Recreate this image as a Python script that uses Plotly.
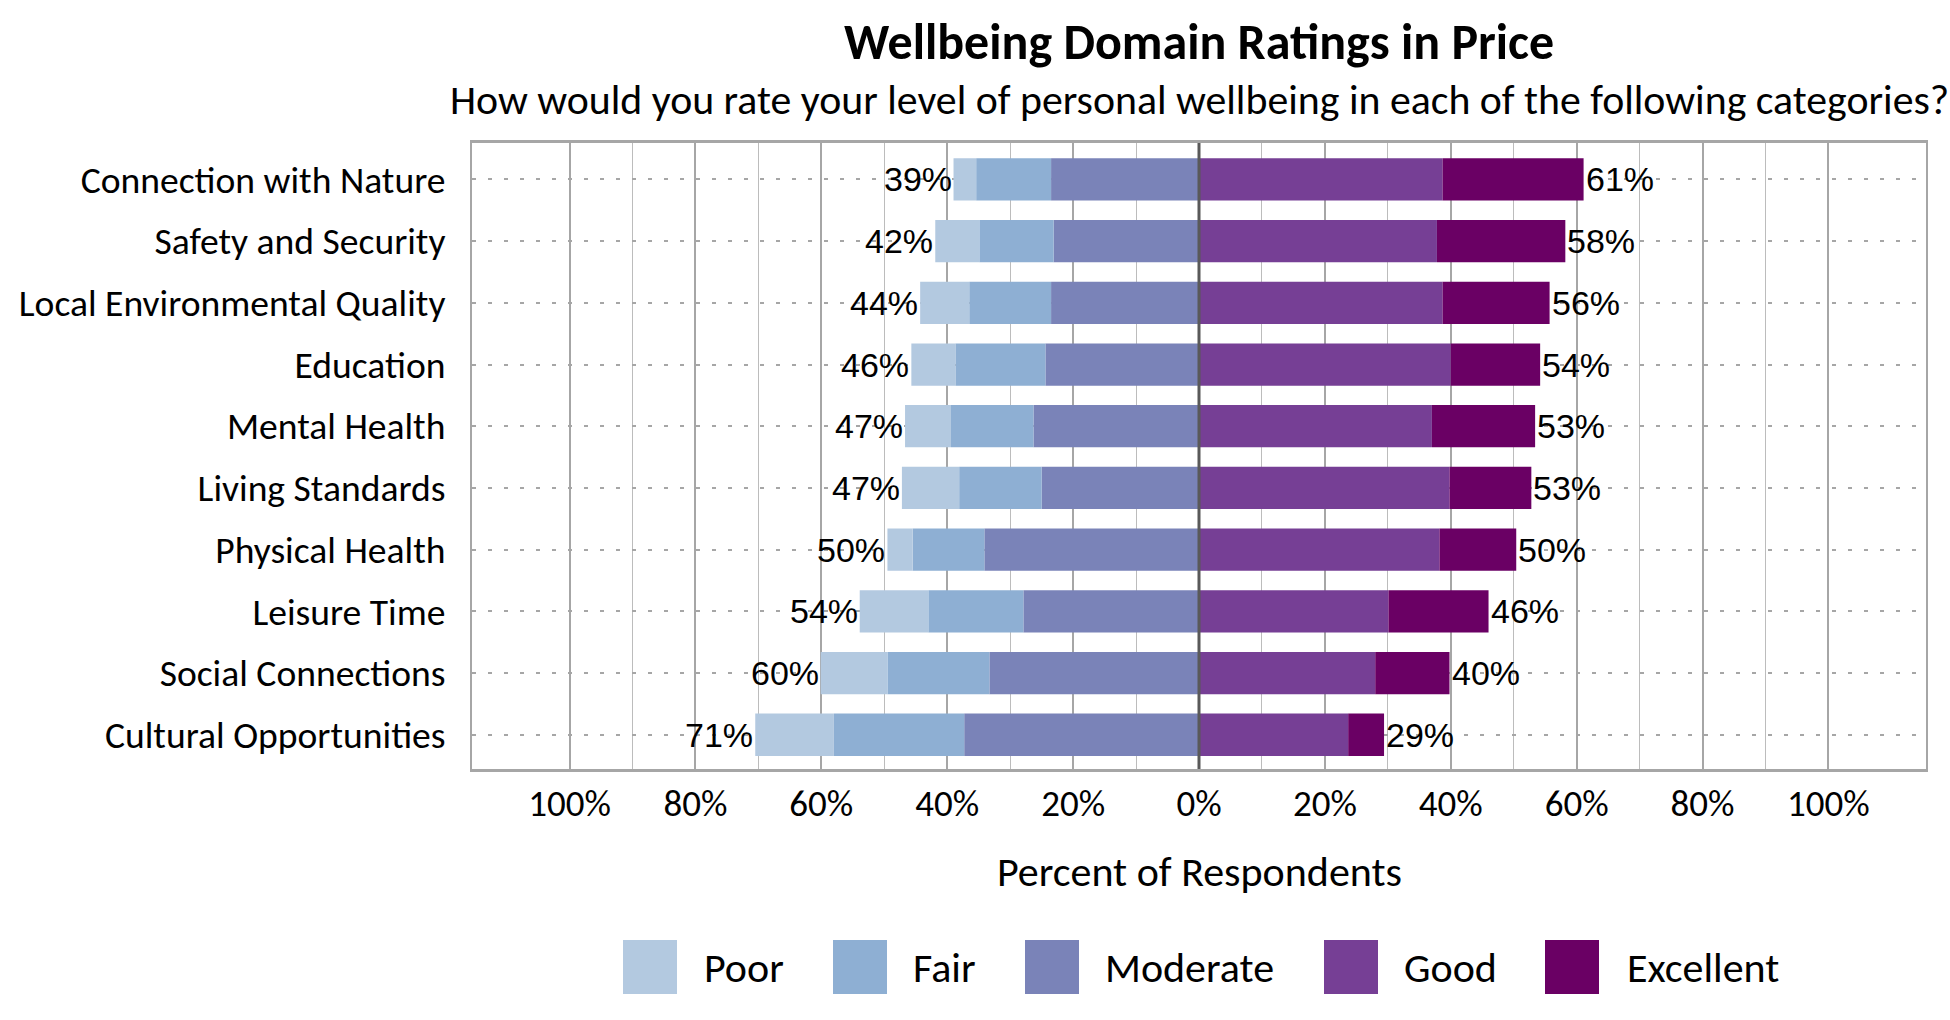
import plotly.graph_objects as go

# ---------------- data ----------------
categories = ["Connection with Nature", "Safety and Security", "Local Environmental Quality",
              "Education", "Mental Health", "Living Standards", "Physical Health",
              "Leisure Time", "Social Connections", "Cultural Opportunities"]
poor = [3.6, 7.0, 7.8, 7.0, 7.3, 9.1, 4.0, 10.9, 10.6, 12.5]
fair = [11.9, 11.8, 13.0, 14.3, 13.1, 13.1, 11.4, 15.1, 16.2, 20.7]
moderate = [23.5, 23.1, 23.5, 24.4, 26.3, 25.0, 34.1, 27.9, 33.3, 37.3]
good = [38.7, 37.8, 38.7, 40.0, 37.0, 39.8, 38.2, 30.1, 28.0, 23.7]
excellent = [22.4, 20.4, 17.0, 14.2, 16.4, 13.0, 12.2, 15.9, 11.8, 5.7]
neg_labels = ["39%", "42%", "44%", "46%", "47%", "47%", "50%", "54%", "60%", "71%"]
pos_labels = ["61%", "58%", "56%", "54%", "53%", "53%", "50%", "46%", "40%", "29%"]
tick_values = [-100, -80, -60, -40, -20, 0, 20, 40, 60, 80, 100]
tick_labels = ["100%", "80%", "60%", "40%", "20%", "0%", "20%", "40%", "60%", "80%", "100%"]
minor_values = [-90, -70, -50, -30, -10, 10, 30, 50, 70, 90]
series_names = ["Poor", "Fair", "Moderate", "Good", "Excellent"]
colors = ["#b3c9e0", "#8eafd3", "#7a83b8", "#763f95", "#6a0064"]

# ---------------- layout constants ----------------
W, H = 1950, 1020
L, R, T, B = 472, 24, 143, 251
PW, PH = W - L - R, H - T - B
FONT = "Carlito, Calibri, Lato, sans-serif"
NUMFONT = "Liberation Sans, Arial, sans-serif"


def px_x(x):
    return (x - L) / PW


def px_y(y):
    return (H - B - y) / PH


fig = go.Figure()
neg_series = [("Moderate", moderate, colors[2]), ("Fair", fair, colors[1]), ("Poor", poor, colors[0])]
for name, vals, col in neg_series:
    fig.add_trace(go.Bar(y=categories, x=[-v for v in vals], orientation="h", name=name,
                         marker=dict(color=col, line=dict(width=0)), showlegend=False,
                         hoverinfo="skip"))
for name, vals, col in [("Good", good, colors[3]), ("Excellent", excellent, colors[4])]:
    fig.add_trace(go.Bar(y=categories, x=vals, orientation="h", name=name,
                         marker=dict(color=col, line=dict(width=0)), showlegend=False,
                         hoverinfo="skip"))

annotations = []
for i, c in enumerate(categories):
    neg_total = poor[i] + fair[i] + moderate[i]
    pos_total = good[i] + excellent[i]
    annotations.append(dict(x=-neg_total, y=c, xref="x", yref="y", text=neg_labels[i],
                            showarrow=False, xanchor="right", yanchor="middle", xshift=0,
                            font=dict(family=NUMFONT, size=34, color="black")))
    annotations.append(dict(x=pos_total, y=c, xref="x", yref="y", text=pos_labels[i],
                            showarrow=False, xanchor="left", yanchor="middle", xshift=0,
                            font=dict(family=NUMFONT, size=34, color="black")))

annotations.append(dict(x=px_x(1199), y=px_y(41), xref="paper", yref="paper",
                        text="<b>Wellbeing Domain Ratings in Price</b>", showarrow=False,
                        xanchor="center", yanchor="middle",
                        font=dict(family=FONT, size=50, color="black")))
annotations.append(dict(x=px_x(1199), y=px_y(100), xref="paper", yref="paper",
                        text="How would you rate your level of personal wellbeing in each of the following categories?",
                        showarrow=False, xanchor="center", yanchor="middle",
                        font=dict(family=FONT, size=41.8, color="black")))
annotations.append(dict(x=px_x(1199), y=px_y(871), xref="paper", yref="paper",
                        text="Percent of Respondents", showarrow=False,
                        xanchor="center", yanchor="middle",
                        font=dict(family=FONT, size=42, color="black")))

shapes = []
swatch_x = [623, 833, 1025, 1324, 1545]
text_x = [702, 911, 1103, 1402, 1625]
for i, name in enumerate(series_names):
    shapes.append(dict(type="rect", xref="paper", yref="paper",
                       x0=px_x(swatch_x[i]), x1=px_x(swatch_x[i] + 54),
                       y0=px_y(994), y1=px_y(940), fillcolor=colors[i], line=dict(width=0)))
    annotations.append(dict(x=px_x(text_x[i]), y=px_y(967), xref="paper", yref="paper",
                            text=name, showarrow=False, xanchor="left", yanchor="middle",
                            font=dict(family=FONT, size=42, color="black")))

shapes.append(dict(type="line", xref="x", yref="paper", x0=0, x1=0, y0=0, y1=1,
                   line=dict(color="#595959", width=3), layer="above"))

fig.update_layout(
    width=W, height=H,
    margin=dict(l=L, r=R, t=T, b=B, pad=0),
    paper_bgcolor="white", plot_bgcolor="white",
    barmode="relative", bargap=0.315,
    showlegend=False,
    annotations=annotations, shapes=shapes,
    xaxis=dict(range=[-115.5, 115.5], tickvals=tick_values, ticktext=tick_labels,
               showgrid=True, gridcolor="#a6a6a6", gridwidth=2,
               minor=dict(tickvals=minor_values, showgrid=True, gridcolor="#bcbcbc", gridwidth=1),
               zeroline=False, showline=True, mirror=True, linecolor="#a6a6a6", linewidth=3,
               ticks="", ticklabelstandoff=0,
               tickfont=dict(family=FONT, size=37, color="black"), fixedrange=True),
    yaxis=dict(range=[9.555, -0.59], showgrid=True, gridcolor="#a6a6a6", gridwidth=2,
               griddash="4px,12px", zeroline=False, showline=True, mirror=True,
               linecolor="#a6a6a6", linewidth=2, ticks="", ticklabelstandoff=17,
               tickfont=dict(family=FONT, size=37.6, color="black"), fixedrange=True),
)

fig.write_html("out.html", config={"displayModeBar": False, "staticPlot": True},
               post_script="document.body.style.margin='0';document.body.style.overflow='hidden';")
